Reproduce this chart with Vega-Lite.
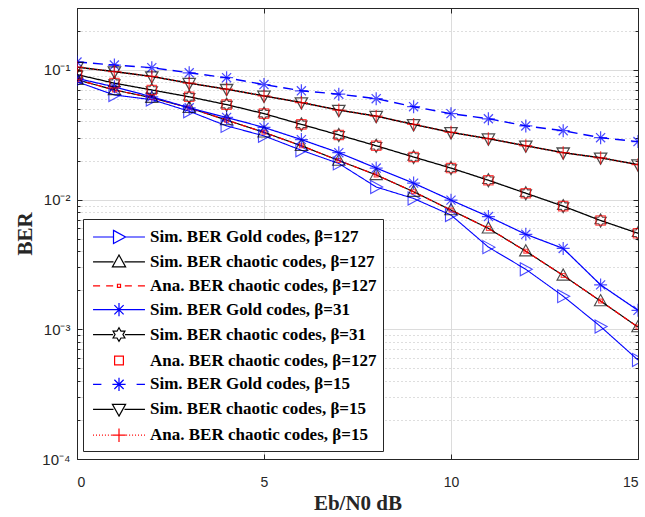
{
  "$schema": "https://vega.github.io/schema/vega-lite/v6.json",
  "autosize": "none",
  "width": 561,
  "height": 451,
  "padding": {"left": 77, "top": 8, "right": 7, "bottom": 58},
  "background": "white",
  "config": {
    "font": "Liberation Sans",
    "view": {"stroke": "#262626", "strokeWidth": 1}
  },
  "datasets": {
    "ber": [
      {"s": "1|Sim. BER Gold codes, β=127", "x": 0, "y": 0.081},
      {"s": "1|Sim. BER Gold codes, β=127", "x": 1, "y": 0.064},
      {"s": "1|Sim. BER Gold codes, β=127", "x": 2, "y": 0.059},
      {"s": "1|Sim. BER Gold codes, β=127", "x": 3, "y": 0.048},
      {"s": "1|Sim. BER Gold codes, β=127", "x": 4, "y": 0.037},
      {"s": "1|Sim. BER Gold codes, β=127", "x": 5, "y": 0.031},
      {"s": "1|Sim. BER Gold codes, β=127", "x": 6, "y": 0.024},
      {"s": "1|Sim. BER Gold codes, β=127", "x": 7, "y": 0.019},
      {"s": "1|Sim. BER Gold codes, β=127", "x": 8, "y": 0.0125},
      {"s": "1|Sim. BER Gold codes, β=127", "x": 9, "y": 0.0102},
      {"s": "1|Sim. BER Gold codes, β=127", "x": 10, "y": 0.0076},
      {"s": "1|Sim. BER Gold codes, β=127", "x": 11, "y": 0.0043},
      {"s": "1|Sim. BER Gold codes, β=127", "x": 12, "y": 0.0029},
      {"s": "1|Sim. BER Gold codes, β=127", "x": 13, "y": 0.0018},
      {"s": "1|Sim. BER Gold codes, β=127", "x": 14, "y": 0.00105},
      {"s": "1|Sim. BER Gold codes, β=127", "x": 15, "y": 0.00058},
      {"s": "2|Sim. BER chaotic codes, β=127", "x": 0, "y": 0.084},
      {"s": "2|Sim. BER chaotic codes, β=127", "x": 1, "y": 0.070},
      {"s": "2|Sim. BER chaotic codes, β=127", "x": 2, "y": 0.061},
      {"s": "2|Sim. BER chaotic codes, β=127", "x": 3, "y": 0.051},
      {"s": "2|Sim. BER chaotic codes, β=127", "x": 4, "y": 0.041},
      {"s": "2|Sim. BER chaotic codes, β=127", "x": 5, "y": 0.033},
      {"s": "2|Sim. BER chaotic codes, β=127", "x": 6, "y": 0.026},
      {"s": "2|Sim. BER chaotic codes, β=127", "x": 7, "y": 0.020},
      {"s": "2|Sim. BER chaotic codes, β=127", "x": 8, "y": 0.0155},
      {"s": "2|Sim. BER chaotic codes, β=127", "x": 9, "y": 0.0115},
      {"s": "2|Sim. BER chaotic codes, β=127", "x": 10, "y": 0.0083},
      {"s": "2|Sim. BER chaotic codes, β=127", "x": 11, "y": 0.0060},
      {"s": "2|Sim. BER chaotic codes, β=127", "x": 12, "y": 0.0040},
      {"s": "2|Sim. BER chaotic codes, β=127", "x": 13, "y": 0.0026},
      {"s": "2|Sim. BER chaotic codes, β=127", "x": 14, "y": 0.00165},
      {"s": "2|Sim. BER chaotic codes, β=127", "x": 15, "y": 0.00104},
      {"s": "3|Ana. BER chaotic codes, β=127", "x": 0, "y": 0.084},
      {"s": "3|Ana. BER chaotic codes, β=127", "x": 1, "y": 0.070},
      {"s": "3|Ana. BER chaotic codes, β=127", "x": 2, "y": 0.061},
      {"s": "3|Ana. BER chaotic codes, β=127", "x": 3, "y": 0.051},
      {"s": "3|Ana. BER chaotic codes, β=127", "x": 4, "y": 0.041},
      {"s": "3|Ana. BER chaotic codes, β=127", "x": 5, "y": 0.033},
      {"s": "3|Ana. BER chaotic codes, β=127", "x": 6, "y": 0.026},
      {"s": "3|Ana. BER chaotic codes, β=127", "x": 7, "y": 0.020},
      {"s": "3|Ana. BER chaotic codes, β=127", "x": 8, "y": 0.0155},
      {"s": "3|Ana. BER chaotic codes, β=127", "x": 9, "y": 0.0115},
      {"s": "3|Ana. BER chaotic codes, β=127", "x": 10, "y": 0.0083},
      {"s": "3|Ana. BER chaotic codes, β=127", "x": 11, "y": 0.0060},
      {"s": "3|Ana. BER chaotic codes, β=127", "x": 12, "y": 0.0040},
      {"s": "3|Ana. BER chaotic codes, β=127", "x": 13, "y": 0.0026},
      {"s": "3|Ana. BER chaotic codes, β=127", "x": 14, "y": 0.00165},
      {"s": "3|Ana. BER chaotic codes, β=127", "x": 15, "y": 0.00104},
      {"s": "4|Sim. BER Gold codes, β=31", "x": 0, "y": 0.086},
      {"s": "4|Sim. BER Gold codes, β=31", "x": 1, "y": 0.074},
      {"s": "4|Sim. BER Gold codes, β=31", "x": 2, "y": 0.062},
      {"s": "4|Sim. BER Gold codes, β=31", "x": 3, "y": 0.051},
      {"s": "4|Sim. BER Gold codes, β=31", "x": 4, "y": 0.043},
      {"s": "4|Sim. BER Gold codes, β=31", "x": 5, "y": 0.036},
      {"s": "4|Sim. BER Gold codes, β=31", "x": 6, "y": 0.029},
      {"s": "4|Sim. BER Gold codes, β=31", "x": 7, "y": 0.023},
      {"s": "4|Sim. BER Gold codes, β=31", "x": 8, "y": 0.0175},
      {"s": "4|Sim. BER Gold codes, β=31", "x": 9, "y": 0.0134},
      {"s": "4|Sim. BER Gold codes, β=31", "x": 10, "y": 0.0099},
      {"s": "4|Sim. BER Gold codes, β=31", "x": 11, "y": 0.0074},
      {"s": "4|Sim. BER Gold codes, β=31", "x": 12, "y": 0.0054},
      {"s": "4|Sim. BER Gold codes, β=31", "x": 13, "y": 0.0042},
      {"s": "4|Sim. BER Gold codes, β=31", "x": 14, "y": 0.0022},
      {"s": "4|Sim. BER Gold codes, β=31", "x": 15, "y": 0.0014},
      {"s": "5|Sim. BER chaotic codes, β=31", "x": 0, "y": 0.092},
      {"s": "5|Sim. BER chaotic codes, β=31", "x": 1, "y": 0.079},
      {"s": "5|Sim. BER chaotic codes, β=31", "x": 2, "y": 0.070},
      {"s": "5|Sim. BER chaotic codes, β=31", "x": 3, "y": 0.062},
      {"s": "5|Sim. BER chaotic codes, β=31", "x": 4, "y": 0.054},
      {"s": "5|Sim. BER chaotic codes, β=31", "x": 5, "y": 0.046},
      {"s": "5|Sim. BER chaotic codes, β=31", "x": 6, "y": 0.038},
      {"s": "5|Sim. BER chaotic codes, β=31", "x": 7, "y": 0.0315},
      {"s": "5|Sim. BER chaotic codes, β=31", "x": 8, "y": 0.026},
      {"s": "5|Sim. BER chaotic codes, β=31", "x": 9, "y": 0.0213},
      {"s": "5|Sim. BER chaotic codes, β=31", "x": 10, "y": 0.0175},
      {"s": "5|Sim. BER chaotic codes, β=31", "x": 11, "y": 0.0141},
      {"s": "5|Sim. BER chaotic codes, β=31", "x": 12, "y": 0.0112},
      {"s": "5|Sim. BER chaotic codes, β=31", "x": 13, "y": 0.0089},
      {"s": "5|Sim. BER chaotic codes, β=31", "x": 14, "y": 0.0069},
      {"s": "5|Sim. BER chaotic codes, β=31", "x": 15, "y": 0.0055},
      {"s": "6|Ana. BER chaotic codes, β=127", "x": 0, "y": 0.092},
      {"s": "6|Ana. BER chaotic codes, β=127", "x": 1, "y": 0.079},
      {"s": "6|Ana. BER chaotic codes, β=127", "x": 2, "y": 0.070},
      {"s": "6|Ana. BER chaotic codes, β=127", "x": 3, "y": 0.062},
      {"s": "6|Ana. BER chaotic codes, β=127", "x": 4, "y": 0.054},
      {"s": "6|Ana. BER chaotic codes, β=127", "x": 5, "y": 0.046},
      {"s": "6|Ana. BER chaotic codes, β=127", "x": 6, "y": 0.038},
      {"s": "6|Ana. BER chaotic codes, β=127", "x": 7, "y": 0.0315},
      {"s": "6|Ana. BER chaotic codes, β=127", "x": 8, "y": 0.026},
      {"s": "6|Ana. BER chaotic codes, β=127", "x": 9, "y": 0.0213},
      {"s": "6|Ana. BER chaotic codes, β=127", "x": 10, "y": 0.0175},
      {"s": "6|Ana. BER chaotic codes, β=127", "x": 11, "y": 0.0141},
      {"s": "6|Ana. BER chaotic codes, β=127", "x": 12, "y": 0.0112},
      {"s": "6|Ana. BER chaotic codes, β=127", "x": 13, "y": 0.0089},
      {"s": "6|Ana. BER chaotic codes, β=127", "x": 14, "y": 0.0069},
      {"s": "6|Ana. BER chaotic codes, β=127", "x": 15, "y": 0.0055},
      {"s": "7|Sim. BER Gold codes, β=15", "x": 0, "y": 0.115},
      {"s": "7|Sim. BER Gold codes, β=15", "x": 1, "y": 0.109},
      {"s": "7|Sim. BER Gold codes, β=15", "x": 2, "y": 0.104},
      {"s": "7|Sim. BER Gold codes, β=15", "x": 3, "y": 0.095},
      {"s": "7|Sim. BER Gold codes, β=15", "x": 4, "y": 0.087},
      {"s": "7|Sim. BER Gold codes, β=15", "x": 5, "y": 0.077},
      {"s": "7|Sim. BER Gold codes, β=15", "x": 6, "y": 0.069},
      {"s": "7|Sim. BER Gold codes, β=15", "x": 7, "y": 0.065},
      {"s": "7|Sim. BER Gold codes, β=15", "x": 8, "y": 0.060},
      {"s": "7|Sim. BER Gold codes, β=15", "x": 9, "y": 0.052},
      {"s": "7|Sim. BER Gold codes, β=15", "x": 10, "y": 0.046},
      {"s": "7|Sim. BER Gold codes, β=15", "x": 11, "y": 0.042},
      {"s": "7|Sim. BER Gold codes, β=15", "x": 12, "y": 0.037},
      {"s": "7|Sim. BER Gold codes, β=15", "x": 13, "y": 0.034},
      {"s": "7|Sim. BER Gold codes, β=15", "x": 14, "y": 0.030},
      {"s": "7|Sim. BER Gold codes, β=15", "x": 15, "y": 0.028},
      {"s": "8|Sim. BER chaotic codes, β=15", "x": 0, "y": 0.105},
      {"s": "8|Sim. BER chaotic codes, β=15", "x": 1, "y": 0.097},
      {"s": "8|Sim. BER chaotic codes, β=15", "x": 2, "y": 0.089},
      {"s": "8|Sim. BER chaotic codes, β=15", "x": 3, "y": 0.079},
      {"s": "8|Sim. BER chaotic codes, β=15", "x": 4, "y": 0.071},
      {"s": "8|Sim. BER chaotic codes, β=15", "x": 5, "y": 0.063},
      {"s": "8|Sim. BER chaotic codes, β=15", "x": 6, "y": 0.056},
      {"s": "8|Sim. BER chaotic codes, β=15", "x": 7, "y": 0.049},
      {"s": "8|Sim. BER chaotic codes, β=15", "x": 8, "y": 0.044},
      {"s": "8|Sim. BER chaotic codes, β=15", "x": 9, "y": 0.038},
      {"s": "8|Sim. BER chaotic codes, β=15", "x": 10, "y": 0.033},
      {"s": "8|Sim. BER chaotic codes, β=15", "x": 11, "y": 0.0295},
      {"s": "8|Sim. BER chaotic codes, β=15", "x": 12, "y": 0.026},
      {"s": "8|Sim. BER chaotic codes, β=15", "x": 13, "y": 0.023},
      {"s": "8|Sim. BER chaotic codes, β=15", "x": 14, "y": 0.021},
      {"s": "8|Sim. BER chaotic codes, β=15", "x": 15, "y": 0.0186},
      {"s": "9|Ana. BER chaotic codes, β=15", "x": 0, "y": 0.105},
      {"s": "9|Ana. BER chaotic codes, β=15", "x": 1, "y": 0.097},
      {"s": "9|Ana. BER chaotic codes, β=15", "x": 2, "y": 0.089},
      {"s": "9|Ana. BER chaotic codes, β=15", "x": 3, "y": 0.079},
      {"s": "9|Ana. BER chaotic codes, β=15", "x": 4, "y": 0.071},
      {"s": "9|Ana. BER chaotic codes, β=15", "x": 5, "y": 0.063},
      {"s": "9|Ana. BER chaotic codes, β=15", "x": 6, "y": 0.056},
      {"s": "9|Ana. BER chaotic codes, β=15", "x": 7, "y": 0.049},
      {"s": "9|Ana. BER chaotic codes, β=15", "x": 8, "y": 0.044},
      {"s": "9|Ana. BER chaotic codes, β=15", "x": 9, "y": 0.038},
      {"s": "9|Ana. BER chaotic codes, β=15", "x": 10, "y": 0.033},
      {"s": "9|Ana. BER chaotic codes, β=15", "x": 11, "y": 0.0295},
      {"s": "9|Ana. BER chaotic codes, β=15", "x": 12, "y": 0.026},
      {"s": "9|Ana. BER chaotic codes, β=15", "x": 13, "y": 0.023},
      {"s": "9|Ana. BER chaotic codes, β=15", "x": 14, "y": 0.021},
      {"s": "9|Ana. BER chaotic codes, β=15", "x": 15, "y": 0.0186}
    ]
  },
  "data": {"name": "ber"},
  "resolve": {
    "scale": {"color": "independent", "shape": "independent", "strokeDash": "independent", "strokeWidth": "independent"},
    "axis": {"x": "independent", "y": "independent"}
  },
  "layer": [
    {
      "transform": [{"filter": "slice(datum.s, 0, 1) != '6'"}],
      "mark": {"type": "line", "clip": true},
      "encoding": {
        "x": {
          "field": "x", "type": "quantitative",
          "scale": {"domain": [0, 15], "nice": false},
          "axis": {
            "orient": "bottom", "values": [0, 5, 10, 15], "title": "Eb/N0 dB",
            "grid": true, "gridColor": "#dcdcdc", "gridWidth": 1,
            "domainColor": "#262626", "tickColor": "#262626", "tickSize": -5,
            "labelPadding": 21, "labelFont": "Liberation Sans", "labelFontSize": 14, "labelColor": "#262626",
            "titleFont": "Liberation Serif", "titleFontWeight": "bold", "titleFontSize": 21, "titleColor": "#262626", "titlePadding": 3
          }
        },
        "y": {
          "field": "y", "type": "quantitative",
          "scale": {"type": "log", "domain": [0.0001, 0.3], "nice": false},
          "axis": {
            "orient": "left",
            "values": [0.0001, 0.0002, 0.0003, 0.0004, 0.0005, 0.0006, 0.0007, 0.0008, 0.0009, 0.001, 0.002, 0.003, 0.004, 0.005, 0.006, 0.007, 0.008, 0.009, 0.01, 0.02, 0.03, 0.04, 0.05, 0.06, 0.07, 0.08, 0.09, 0.1, 0.2, 0.3],
            "labelExpr": "datum.value == 0.1 ? '10⁻¹' : datum.value == 0.01 ? '10⁻²' : datum.value == 0.001 ? '10⁻³' : datum.value == 0.0001 ? '10⁻⁴' : ''",
            "title": "BER",
            "grid": true,
            "gridColor": {"condition": {"test": "indexof([0.0001, 0.001, 0.01, 0.1], datum.value) < 0", "value": "#bdbdbd"}, "value": "#dcdcdc"},
            "gridDash": {"condition": {"test": "indexof([0.0001, 0.001, 0.01, 0.1], datum.value) < 0", "value": [1, 3]}, "value": []},
            "domainColor": "#262626", "tickColor": "#262626",
            "tickSize": {"condition": {"test": "indexof([0.0001, 0.001, 0.01, 0.1], datum.value) < 0", "value": -3}, "value": -5},
            "labelPadding": 12, "labelFont": "Liberation Sans", "labelFontSize": 15, "labelColor": "#262626",
            "labelBound": false, "labelFlush": false, "labelOverlap": false,
            "titleFont": "Liberation Serif", "titleFontWeight": "bold", "titleFontSize": 21, "titleColor": "#262626", "titlePadding": 6
          }
        },
        "color": {
          "field": "s", "type": "nominal", "legend": null,
          "scale": {
            "domain": ["1|Sim. BER Gold codes, β=127", "2|Sim. BER chaotic codes, β=127", "3|Ana. BER chaotic codes, β=127", "4|Sim. BER Gold codes, β=31", "5|Sim. BER chaotic codes, β=31", "6|Ana. BER chaotic codes, β=127", "7|Sim. BER Gold codes, β=15", "8|Sim. BER chaotic codes, β=15", "9|Ana. BER chaotic codes, β=15"],
            "range": ["#0000ff", "#000000", "#ff0000", "#0000ff", "#000000", "#ff0000", "#0000ff", "#000000", "#ff0000"]
          }
        },
        "strokeDash": {
          "field": "s", "type": "nominal", "legend": null,
          "scale": {
            "domain": ["1|Sim. BER Gold codes, β=127", "2|Sim. BER chaotic codes, β=127", "3|Ana. BER chaotic codes, β=127", "4|Sim. BER Gold codes, β=31", "5|Sim. BER chaotic codes, β=31", "6|Ana. BER chaotic codes, β=127", "7|Sim. BER Gold codes, β=15", "8|Sim. BER chaotic codes, β=15", "9|Ana. BER chaotic codes, β=15"],
            "range": [[1, 0], [1, 0], [6, 4], [1, 0], [1, 0], [1, 0], [10, 6], [1, 0], [1, 3]]
          }
        },
        "strokeWidth": {
          "field": "s", "type": "nominal", "legend": null,
          "scale": {
            "domain": ["1|Sim. BER Gold codes, β=127", "2|Sim. BER chaotic codes, β=127", "3|Ana. BER chaotic codes, β=127", "4|Sim. BER Gold codes, β=31", "5|Sim. BER chaotic codes, β=31", "6|Ana. BER chaotic codes, β=127", "7|Sim. BER Gold codes, β=15", "8|Sim. BER chaotic codes, β=15", "9|Ana. BER chaotic codes, β=15"],
            "range": [1.1, 1.5, 1.8, 1.1, 1.5, 1, 1.1, 1.5, 1.5]
          }
        }
      }
    },
    {
      "mark": {"type": "point", "filled": false, "size": 169, "clip": true},
      "encoding": {
        "x": {
          "field": "x", "type": "quantitative",
          "axis": {"orient": "top", "values": [0, 5, 10, 15], "labels": false, "title": null, "grid": false, "domainColor": "#262626", "tickColor": "#262626", "tickSize": -5}
        },
        "y": {
          "field": "y", "type": "quantitative",
          "axis": {
            "orient": "right",
            "values": [0.0001, 0.0002, 0.0003, 0.0004, 0.0005, 0.0006, 0.0007, 0.0008, 0.0009, 0.001, 0.002, 0.003, 0.004, 0.005, 0.006, 0.007, 0.008, 0.009, 0.01, 0.02, 0.03, 0.04, 0.05, 0.06, 0.07, 0.08, 0.09, 0.1, 0.2, 0.3],
            "labels": false, "title": null, "grid": false, "domainColor": "#262626", "tickColor": "#262626",
            "tickSize": {"condition": {"test": "indexof([0.0001, 0.001, 0.01, 0.1], datum.value) < 0", "value": -3}, "value": -5}
          }
        },
        "color": {
          "field": "s", "type": "nominal", "legend": null,
          "scale": {
            "domain": ["1|Sim. BER Gold codes, β=127", "2|Sim. BER chaotic codes, β=127", "3|Ana. BER chaotic codes, β=127", "4|Sim. BER Gold codes, β=31", "5|Sim. BER chaotic codes, β=31", "6|Ana. BER chaotic codes, β=127", "7|Sim. BER Gold codes, β=15", "8|Sim. BER chaotic codes, β=15", "9|Ana. BER chaotic codes, β=15"],
            "range": ["#0000ff", "#000000", "#ff0000", "#0000ff", "#000000", "#ff0000", "#0000ff", "#000000", "#ff0000"]
          }
        },
        "shape": {
          "field": "s", "type": "nominal", "legend": null,
          "scale": {
            "domain": ["1|Sim. BER Gold codes, β=127", "2|Sim. BER chaotic codes, β=127", "3|Ana. BER chaotic codes, β=127", "4|Sim. BER Gold codes, β=31", "5|Sim. BER chaotic codes, β=31", "6|Ana. BER chaotic codes, β=127", "7|Sim. BER Gold codes, β=15", "8|Sim. BER chaotic codes, β=15", "9|Ana. BER chaotic codes, β=15"],
            "range": [
              "M-0.85,-1L1,0L-0.85,1Z",
              "M0,-1L0.95,0.72L-0.95,0.72Z",
              "M-0.3,-0.3H0.3V0.3H-0.3Z",
              "M-1,0H1M0,-1V1M-0.7,-0.7L0.7,0.7M-0.7,0.7L0.7,-0.7",
              "M0,-1L0.289,-0.5L0.866,-0.5L0.577,0L0.866,0.5L0.289,0.5L0,1L-0.289,0.5L-0.866,0.5L-0.577,0L-0.866,-0.5L-0.289,-0.5Z",
              "M-0.72,-0.72H0.72V0.72H-0.72Z",
              "M-1,0H1M0,-1V1M-0.7,-0.7L0.7,0.7M-0.7,0.7L0.7,-0.7",
              "M0,1L0.95,-0.72L-0.95,-0.72Z",
              "M-1,0H1M0,-1V1"
            ]
          }
        },
        "strokeWidth": {
          "field": "s", "type": "nominal", "legend": null,
          "scale": {
            "domain": ["1|Sim. BER Gold codes, β=127", "2|Sim. BER chaotic codes, β=127", "3|Ana. BER chaotic codes, β=127", "4|Sim. BER Gold codes, β=31", "5|Sim. BER chaotic codes, β=31", "6|Ana. BER chaotic codes, β=127", "7|Sim. BER Gold codes, β=15", "8|Sim. BER chaotic codes, β=15", "9|Ana. BER chaotic codes, β=15"],
            "range": [1.1, 1.3, 1.8, 1.1, 1.3, 1.5, 1.1, 1.3, 1.5]
          }
        }
      }
    },
    {
      "mark": {"type": "point", "filled": false, "size": 484, "opacity": 0},
      "encoding": {
        "x": {"field": "x", "type": "quantitative", "axis": null},
        "y": {"field": "y", "type": "quantitative", "axis": null},
        "color": {
          "field": "s", "type": "nominal",
          "scale": {
            "domain": ["1|Sim. BER Gold codes, β=127", "2|Sim. BER chaotic codes, β=127", "3|Ana. BER chaotic codes, β=127", "4|Sim. BER Gold codes, β=31", "5|Sim. BER chaotic codes, β=31", "6|Ana. BER chaotic codes, β=127", "7|Sim. BER Gold codes, β=15", "8|Sim. BER chaotic codes, β=15", "9|Ana. BER chaotic codes, β=15"],
            "range": ["#0000ff", "#000000", "#ff0000", "#0000ff", "#000000", "#ff0000", "#0000ff", "#000000", "#ff0000"]
          },
          "legend": {
            "title": null, "orient": "none", "legendX": 6, "legendY": 211,
            "labelExpr": "slice(datum.label, 2)",
            "labelFont": "Liberation Serif", "labelFontWeight": "bold", "labelFontSize": 17, "labelColor": "#000000", "labelLimit": 400,
            "symbolSize": 484, "symbolStrokeWidth": 1.2, "symbolOpacity": 1, "symbolOffset": 18, "labelOffset": 19,
            "rowPadding": 3.9, "padding": 6,
            "fillColor": "#ffffff", "strokeColor": "#262626", "cornerRadius": 0
          }
        },
        "shape": {
          "field": "s", "type": "nominal",
          "scale": {
            "domain": ["1|Sim. BER Gold codes, β=127", "2|Sim. BER chaotic codes, β=127", "3|Ana. BER chaotic codes, β=127", "4|Sim. BER Gold codes, β=31", "5|Sim. BER chaotic codes, β=31", "6|Ana. BER chaotic codes, β=127", "7|Sim. BER Gold codes, β=15", "8|Sim. BER chaotic codes, β=15", "9|Ana. BER chaotic codes, β=15"],
            "range": [
              "M-2.36,0H-0.5M0.6,0H2.36M-0.5,-0.6L0.6,0L-0.5,0.6Z",
              "M-2.36,0H-0.5M0.5,0H2.36M0,-0.62L0.6,0.45L-0.6,0.45Z",
              "M-2.36,0H-1.72M-1.17,0H-0.53M0.53,0H1.17M1.72,0H2.36M-0.14,-0.14H0.14V0.14H-0.14Z",
              "M-2.36,0H2.36M0,-0.6V0.6M-0.42,-0.42L0.42,0.42M-0.42,0.42L0.42,-0.42",
              "M-2.36,0H-0.537M0.537,0H2.36M0,-0.62L0.179,-0.31L0.537,-0.31L0.358,0L0.537,0.31L0.179,0.31L0,0.62L-0.179,0.31L-0.537,0.31L-0.358,0L-0.537,-0.31L-0.179,-0.31Z",
              "M-0.4,-0.4H0.4V0.4H-0.4Z",
              "M-2.36,0H-1.6M1.6,0H2.36M-0.6,0H0.6M0,-0.6V0.6M-0.42,-0.42L0.42,0.42M-0.42,0.42L0.42,-0.42",
              "M-2.36,0H-0.5M0.5,0H2.36M0,0.62L0.6,-0.45L-0.6,-0.45Z",
              "M-2.36,0H-2.27M-2.09,0H-2.0M-1.82,0H-1.73M-1.55,0H-1.46M-1.28,0H-1.19M-1.01,0H-0.92M-0.74,0H-0.65M0.65,0H0.74M0.92,0H1.01M1.19,0H1.28M1.46,0H1.55M1.73,0H1.82M2.0,0H2.09M2.27,0H2.36M-0.62,0H0.62M0,-0.62V0.62"
            ]
          }
        }
      }
    }
  ]
}
